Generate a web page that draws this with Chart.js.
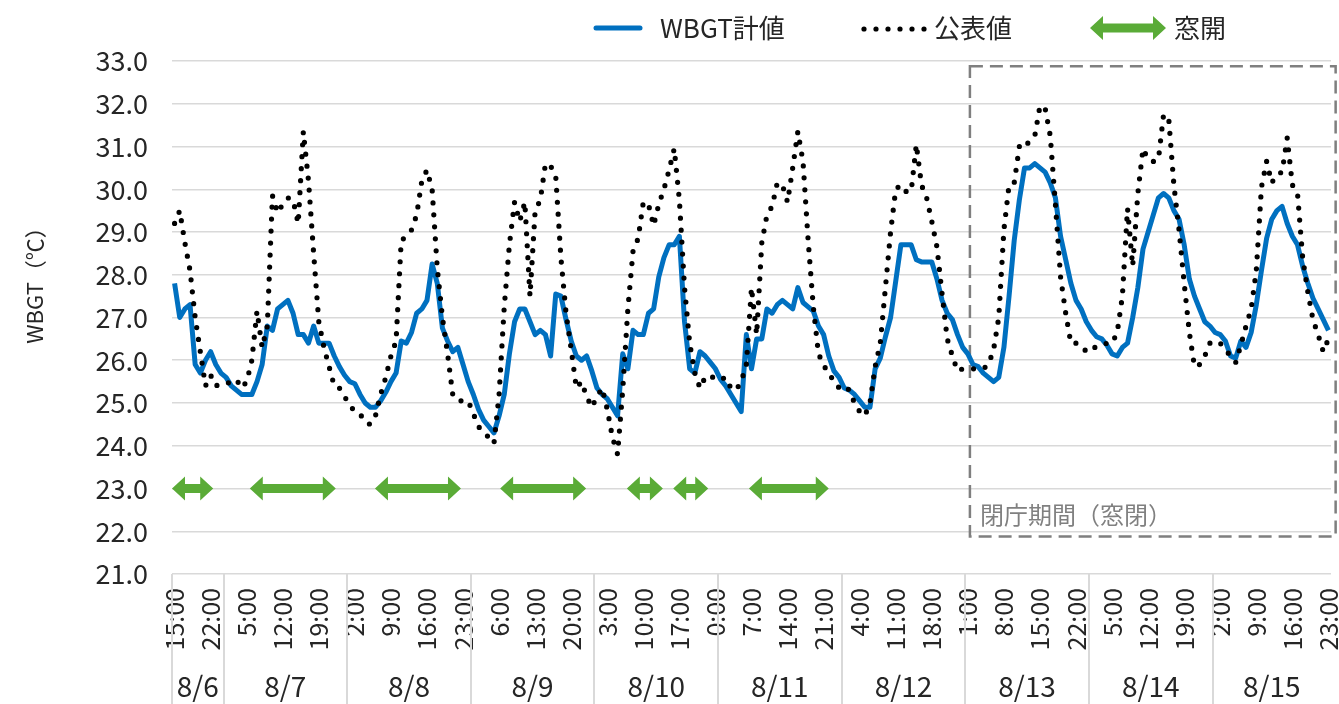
<!DOCTYPE html>
<html>
<head>
<meta charset="utf-8">
<script src="https://cdn.jsdelivr.net/npm/chart.js@4.4.1/dist/chart.umd.min.js"></script>
<style>
  html, body { margin: 0; padding: 0; background: #fff; }
  #wrap { width: 1339px; height: 704px; position: relative; }
</style>
</head>
<body>
<div id="wrap"><canvas id="chart" width="1339" height="704"></canvas></div>
<script>
// hourly series, 8/6 15:00 .. 8/15 23:00
var START_HOUR = 15;
var N = 225;

var wbgtCalc = [
  27.8, 27.0, 27.2, 27.3, 25.9, 25.7, 26.0, 26.2, 25.9,
  25.7, 25.6, 25.4, 25.3, 25.2, 25.2, 25.2, 25.5, 25.9, 26.8, 26.7, 27.2, 27.3, 27.4, 27.1, 26.6, 26.6, 26.4, 26.8, 26.4, 26.4, 26.4, 26.1, 25.85,
  25.65, 25.5, 25.45, 25.2, 25.0, 24.9, 24.9, 25.05, 25.25, 25.5, 25.7, 26.45, 26.4, 26.65, 27.1, 27.2, 27.4, 28.25, 27.8, 26.75, 26.45, 26.2, 26.3, 25.9,
  25.5, 25.2, 24.85, 24.6, 24.45, 24.3, 24.7, 25.2, 26.15, 26.9, 27.2, 27.2, 26.9, 26.6, 26.7, 26.6, 26.1, 27.55, 27.5, 26.95, 26.45, 26.1, 26.0, 26.1,
  25.75, 25.35, 25.2, 25.1, 24.9, 24.7, 26.15, 25.8, 26.7, 26.6, 26.6, 27.1, 27.2, 27.95, 28.4, 28.7, 28.7, 28.9, 26.9, 25.8, 25.7, 26.2, 26.1, 25.95,
  25.8, 25.55, 25.4, 25.2, 25.0, 24.8, 26.6, 25.8, 26.5, 26.5, 27.2, 27.1, 27.3, 27.4, 27.3, 27.2, 27.7, 27.35, 27.25, 27.15, 26.8, 26.6, 26.1, 25.75,
  25.6, 25.35, 25.3, 25.2, 25.05, 24.9, 24.9, 25.8, 26.05, 26.55, 27.0, 27.85, 28.7, 28.7, 28.7, 28.35, 28.3, 28.3, 28.3, 27.9, 27.4, 27.1, 26.95, 26.6,
  26.3, 26.15, 25.9, 25.85, 25.7, 25.6, 25.5, 25.6, 26.3, 27.5, 28.8, 29.75, 30.5, 30.5, 30.6, 30.5, 30.4, 30.15, 29.8, 28.9, 28.35, 27.8, 27.4, 27.2,
  26.9, 26.7, 26.55, 26.5, 26.35, 26.15, 26.1, 26.3, 26.4, 27.0, 27.7, 28.6, 29.0, 29.4, 29.8, 29.9, 29.8, 29.5, 29.3, 28.7, 27.9, 27.5, 27.2, 26.9,
  26.8, 26.65, 26.6, 26.45, 26.1, 26.05, 26.45, 26.3, 26.65, 27.3, 28.1, 28.85, 29.3, 29.5, 29.6, 29.2, 28.9, 28.7, 28.2, 27.8, 27.45, 27.2, 26.95, 26.7
];

var wbgtPublished = [
  29.2, 29.5, 28.75, 28.1, 27.0, 26.2, 25.4, 25.65, 25.4,
  25.45, 25.45, 25.5, 25.55, 25.35, 25.5, 26.0, 27.15, 26.3, 26.8, 29.85, 29.45, 29.65, 29.8, 29.75, 29.2, 31.35, 30.2, 28.5, 26.9, 26.3, 25.85, 25.4, 25.35,
  25.15, 24.95, 24.8, 24.75, 24.55, 24.5, 24.7, 25.2, 25.6, 26.1, 26.45, 28.8, 28.9, 29.05, 29.4, 30.2, 30.45, 30.0, 28.15, 27.0, 26.15, 25.2, 25.05, 25.05,
  25.05, 24.75, 24.45, 24.3, 24.2, 24.05, 25.2, 27.25, 28.7, 29.7, 29.25, 29.7, 27.5, 29.5, 29.75, 30.6, 30.55, 30.3, 28.4, 27.1, 26.25, 25.35, 25.5, 25.15,
  24.9, 25.15, 25.35, 24.85, 24.2, 23.8, 25.3, 27.2, 28.55, 28.85, 29.7, 29.65, 29.15, 29.65, 30.0, 30.45, 30.95, 29.75, 27.7, 26.4, 25.7, 25.35, 25.6, 25.65,
  25.55, 25.55, 25.6, 25.35, 25.3, 25.5, 25.9, 27.7, 26.6, 28.75, 29.4, 29.6, 30.15, 30.1, 29.7, 30.5, 31.35, 30.65, 28.8, 27.25, 26.15, 25.9, 25.65, 25.55,
  25.35, 25.4, 25.3, 25.0, 24.8, 24.7, 25.0, 25.85, 26.4, 27.7, 29.0, 30.0, 30.1, 29.95, 29.95, 31.05, 30.1, 29.8, 29.25, 28.65, 27.55, 26.5, 26.1, 25.75,
  25.8, 25.8, 25.8, 25.8, 25.8, 25.9, 26.25, 27.0, 29.05, 30.1, 30.15, 31.0, 30.95, 31.15, 31.25, 31.95, 31.9, 31.25, 29.65, 27.95, 27.1, 26.4, 26.4, 26.35,
  26.2, 26.3, 26.3, 26.35, 26.4, 26.4, 26.65, 27.5, 29.55, 28.2, 29.9, 30.95, 30.7, 30.65, 30.7, 31.75, 31.65, 30.1, 29.05, 27.8, 26.65, 25.85, 25.9, 26.1,
  26.4, 26.45, 26.4, 26.25, 26.1, 25.95, 26.35, 26.8, 27.2, 28.1, 30.05, 30.65, 30.15, 30.35, 30.4, 31.2, 30.1, 29.9, 28.4, 27.6, 26.95, 26.6, 26.2, 26.5
];

// date groups: 8/6 runs 15:00..0:00, later days 1:00..0:00
var dayLabels = ["8/6", "8/7", "8/8", "8/9", "8/10", "8/11", "8/12", "8/13", "8/14", "8/15"];
var dayStarts = [0, 10, 34, 58, 82, 106, 130, 154, 178, 202];

// 窓開 periods, arrow tip to tip in hour index
var windowOpen = [[-0.5, 7.5], [14.6, 31.3], [38.9, 55.6], [63.2, 79.9], [87.8, 94.8], [96.8, 103.6], [111.5, 127]];

var hourLabels = [];
for (var i = 0; i < N; i++) {
  hourLabels.push(((START_HOUR + i) % 24) + ":00");
}

var FONT = '"Noto Sans CJK JP", "Noto Sans", sans-serif';
var GREEN = "#5aab37";
var BLUE = "#0070c0";
var TEXT = "#262626";

function drawArrow(ctx, x1, x2, y) {
  var head = 13, hh = 12, sh = 4.5;
  ctx.beginPath();
  ctx.moveTo(x1, y);
  ctx.lineTo(x1 + head, y - hh);
  ctx.lineTo(x1 + head, y - sh);
  ctx.lineTo(x2 - head, y - sh);
  ctx.lineTo(x2 - head, y - hh);
  ctx.lineTo(x2, y);
  ctx.lineTo(x2 - head, y + hh);
  ctx.lineTo(x2 - head, y + sh);
  ctx.lineTo(x1 + head, y + sh);
  ctx.lineTo(x1 + head, y + hh);
  ctx.closePath();
  ctx.fillStyle = GREEN;
  ctx.fill();
}

var decor = {
  id: "decor",
  beforeDatasetsDraw: function (chart) {
    var ctx = chart.ctx, x = chart.scales.x, y = chart.scales.y;
    // closed period box
    var x1 = x.getPixelForValue(154.4), x2 = x.getPixelForValue(225.4);
    var y1 = y.getPixelForValue(32.88), y2 = y.getPixelForValue(21.88);
    ctx.save();
    ctx.strokeStyle = "#7f7f7f";
    ctx.lineWidth = 2.5;
    ctx.setLineDash([13, 7]);
    ctx.strokeRect(x1, y1, x2 - x1, y2 - y1);
    ctx.setLineDash([]);
    ctx.fillStyle = "#808080";
    ctx.font = "24px " + FONT;
    ctx.textBaseline = "middle";
    ctx.fillText("閉庁期間（窓閉）", x1 + 10, y2 - 22);
    ctx.restore();
  },
  afterDraw: function (chart) {
    var ctx = chart.ctx, x = chart.scales.x, y = chart.scales.y, area = chart.chartArea;
    ctx.save();
    // arrows
    var ay = y.getPixelForValue(23);
    windowOpen.forEach(function (p) {
      drawArrow(ctx, x.getPixelForValue(p[0]), x.getPixelForValue(p[1]), ay);
    });
    // day separators and labels
    var bounds = dayStarts.concat([N]);
    ctx.strokeStyle = "#d9d9d9";
    ctx.lineWidth = 2;
    ctx.fillStyle = TEXT;
    ctx.font = "28px " + FONT;
    ctx.textAlign = "center";
    ctx.textBaseline = "alphabetic";
    for (var d = 0; d < dayLabels.length; d++) {
      var l = x.getPixelForValue(bounds[d] - 0.5);
      var r = x.getPixelForValue(bounds[d + 1] - 0.5);
      ctx.beginPath();
      ctx.moveTo(Math.round(l), area.bottom);
      ctx.lineTo(Math.round(l), chart.height);
      ctx.stroke();
      ctx.fillText(dayLabels[d], (l + r) / 2, 697);
    }
    // y title
    ctx.save();
    ctx.translate(35, 280);
    ctx.rotate(-Math.PI / 2);
    ctx.font = "22px " + FONT;
    ctx.textBaseline = "middle";
    ctx.fillText("WBGT（℃）", 0, 0);
    ctx.restore();
    // legend
    var ly = 28;
    ctx.textAlign = "left";
    ctx.textBaseline = "middle";
    ctx.font = "26px " + FONT;
    ctx.strokeStyle = BLUE;
    ctx.lineWidth = 5;
    ctx.lineCap = "round";
    ctx.beginPath();
    ctx.moveTo(596, ly);
    ctx.lineTo(640, ly);
    ctx.stroke();
    ctx.fillText("WBGT計値", 660, ly);
    ctx.fillStyle = "#000";
    for (var k = 0; k < 6; k++) {
      ctx.beginPath();
      ctx.arc(864 + k * 12, ly + 1, 2.6, 0, Math.PI * 2);
      ctx.fill();
    }
    ctx.fillStyle = TEXT;
    ctx.fillText("公表値", 934, ly);
    drawArrow(ctx, 1090, 1166, ly);
    ctx.fillStyle = TEXT;
    ctx.fillText("窓開", 1174, ly);
    ctx.restore();
  }
};

new Chart(document.getElementById("chart"), {
  type: "line",
  data: {
    labels: hourLabels,
    datasets: [
      {
        label: "公表値",
        data: wbgtPublished,
        borderColor: "#000",
        borderWidth: 5.2,
        borderDash: [0, 12],
        borderCapStyle: "round",
        pointRadius: 0,
        tension: 0,
        order: 1
      },
      {
        label: "WBGT計値",
        data: wbgtCalc,
        borderColor: BLUE,
        borderWidth: 5,
        borderJoinStyle: "round",
        pointRadius: 0,
        tension: 0,
        order: 2
      }
    ]
  },
  options: {
    responsive: false,
    animation: false,
    devicePixelRatio: 1,
    layout: { padding: { top: 61, right: 8, left: 0, bottom: 0 } },
    plugins: { legend: { display: false }, tooltip: { enabled: false } },
    scales: {
      x: {
        type: "category",
        offset: true,
        grid: { display: false },
        border: { display: false },
        ticks: {
          autoSkip: false,
          minRotation: 90,
          maxRotation: 90,
          padding: 6,
          color: TEXT,
          font: { family: FONT, size: 25 },
          callback: function (v, idx) { return idx % 7 === 0 ? hourLabels[idx] : ""; }
        },
        afterFit: function (s) { s.height = 130; s.paddingLeft = 0; s.paddingRight = 0; }
      },
      y: {
        min: 21,
        max: 33,
        grid: { color: "#d9d9d9", lineWidth: 1.5, drawTicks: false },
        border: { display: false },
        ticks: {
          stepSize: 1,
          padding: 24,
          color: TEXT,
          font: { family: FONT, size: 27 },
          callback: function (v) { return Number(v).toFixed(1); }
        },
        afterFit: function (s) { s.width = 172; s.paddingTop = 0; s.paddingBottom = 0; }
      }
    }
  },
  plugins: [decor]
});
</script>
</body>
</html>
